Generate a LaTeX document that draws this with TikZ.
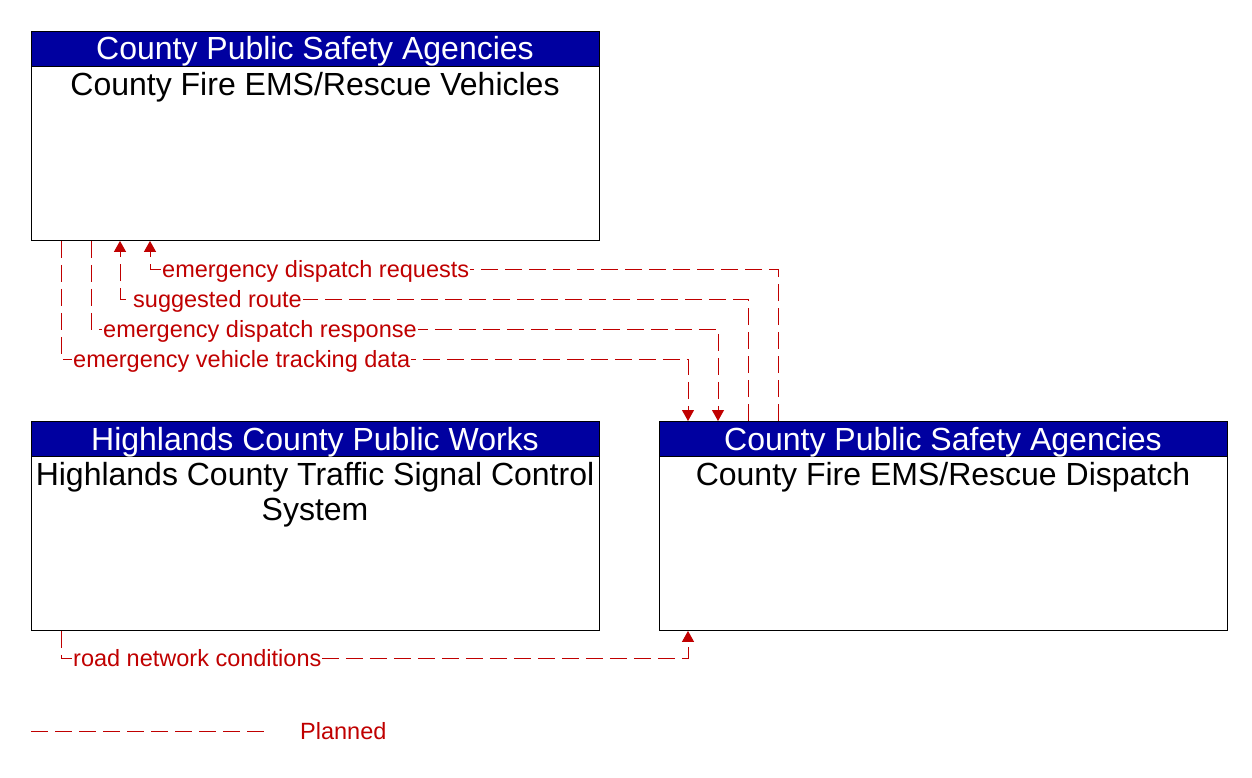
\documentclass[tikz,border=0pt]{standalone}
\usepackage{fontspec}
\setmainfont{Liberation Sans}
\usetikzlibrary{calc,arrows.meta}
\definecolor{hdr}{RGB}{0,0,160}
\definecolor{flow}{RGB}{192,0,0}
\tikzset{
  box/.style={draw=black, line width=0.9pt, fill=white, anchor=north west, minimum width=568pt, minimum height=209pt, inner sep=0pt},
  hdrbox/.style={draw=black, line width=0.9pt, fill=hdr, anchor=north west, minimum width=568pt, minimum height=35pt, inner sep=0pt, text=white, font=\fontsize{32}{35}\selectfont},
  hdrtxt/.style={anchor=base, inner sep=0pt, text=white, font=\fontsize{32}{35}\selectfont},
  bodytxt/.style={anchor=base, inner sep=0pt, font=\fontsize{32}{35}\selectfont, align=center},
  flowline/.style={draw=flow, line width=1pt, dash pattern=on 17pt off 7pt},
  flowarrow/.style={flowline, -{Triangle[length=11pt,width=12pt]}},
  flowlbl/.style={anchor=base west, fill=white, text=flow, inner sep=1pt, font=\fontsize{23.5}{25}\selectfont},
}
\begin{document}
\begin{tikzpicture}[x=1pt,y=-1pt]
\useasboundingbox (0,0) rectangle (1252,778);
% boxes
\node[box] (veh) at (31,31) {};
\node[hdrbox] (vehh) at (31,31) {};
\node[hdrtxt] (vehn) at (315,60) {County Public Safety Agencies};
\node[bodytxt] (veht) at (315,96) {County Fire EMS/Rescue Vehicles};

\node[box] (hcp) at (31,421) {};
\node[hdrbox] (hcph) at (31,421) {};
\node[hdrtxt] (hcpn) at (315,450) {Highlands County Public Works};
\node[bodytxt] (hcpt) at (315,520) {Highlands County Traffic Signal Control\\System};

\node[box] (dis) at (659,421) {};
\node[hdrbox] (dish) at (659,421) {};
\node[hdrtxt] (disn) at (943,450) {County Public Safety Agencies};
\node[bodytxt] (dist) at (943,485) {County Fire EMS/Rescue Dispatch};

% coordinates
\coordinate (a1) at ($(veh.south west)+(119,0)$);
\coordinate (a2) at ($(veh.south west)+(89,0)$);
\coordinate (a3) at ($(veh.south west)+(60,0)$);
\coordinate (a4) at ($(veh.south west)+(30,0)$);
\coordinate (d1) at ($(dis.north west)+(119,0)$);
\coordinate (d2) at ($(dis.north west)+(89,0)$);
\coordinate (d3) at ($(dis.north west)+(59,0)$);
\coordinate (d4) at ($(dis.north west)+(29,0)$);
\coordinate (h1) at ($(hcp.south west)+(30,0)$);
\coordinate (d5) at ($(dis.south west)+(29,0)$);

% flows
\draw[flowarrow] (d1) -- (d1 |- 0,269) -- (a1 |- 0,269) -- (a1);
\node[flowlbl] (l1) at ($(a1 |- 0,269)+(11,8)$) {emergency dispatch requests};

\draw[flowarrow] (d2) -- (d2 |- 0,299) -- (a2 |- 0,299) -- (a2);
\node[flowlbl] (l2) at ($(a2 |- 0,299)+(12,8)$) {suggested route};

\draw[flowarrow] (a3) -- (a3 |- 0,329) -- (d3 |- 0,329) -- (d3);
\node[flowlbl] (l3) at ($(a3 |- 0,329)+(11,8)$) {emergency dispatch response};

\draw[flowarrow] (a4) -- (a4 |- 0,359) -- (d4 |- 0,359) -- (d4);
\node[flowlbl] (l4) at ($(a4 |- 0,359)+(11,8)$) {emergency vehicle tracking data};

\draw[flowarrow] (h1) -- (h1 |- 0,658) -- (d5 |- 0,658) -- (d5);
\node[flowlbl] (l5) at ($(h1 |- 0,658)+(11,8)$) {road network conditions};

% legend
\coordinate (lg1) at (31,731);
\coordinate (lg2) at (265,731);
\draw[flowline] (lg1) -- (lg2);
\node[anchor=base west, text=flow, inner sep=0pt, font=\fontsize{23.5}{25}\selectfont] (lgt) at (300,739) {Planned};
\end{tikzpicture}
\end{document}
